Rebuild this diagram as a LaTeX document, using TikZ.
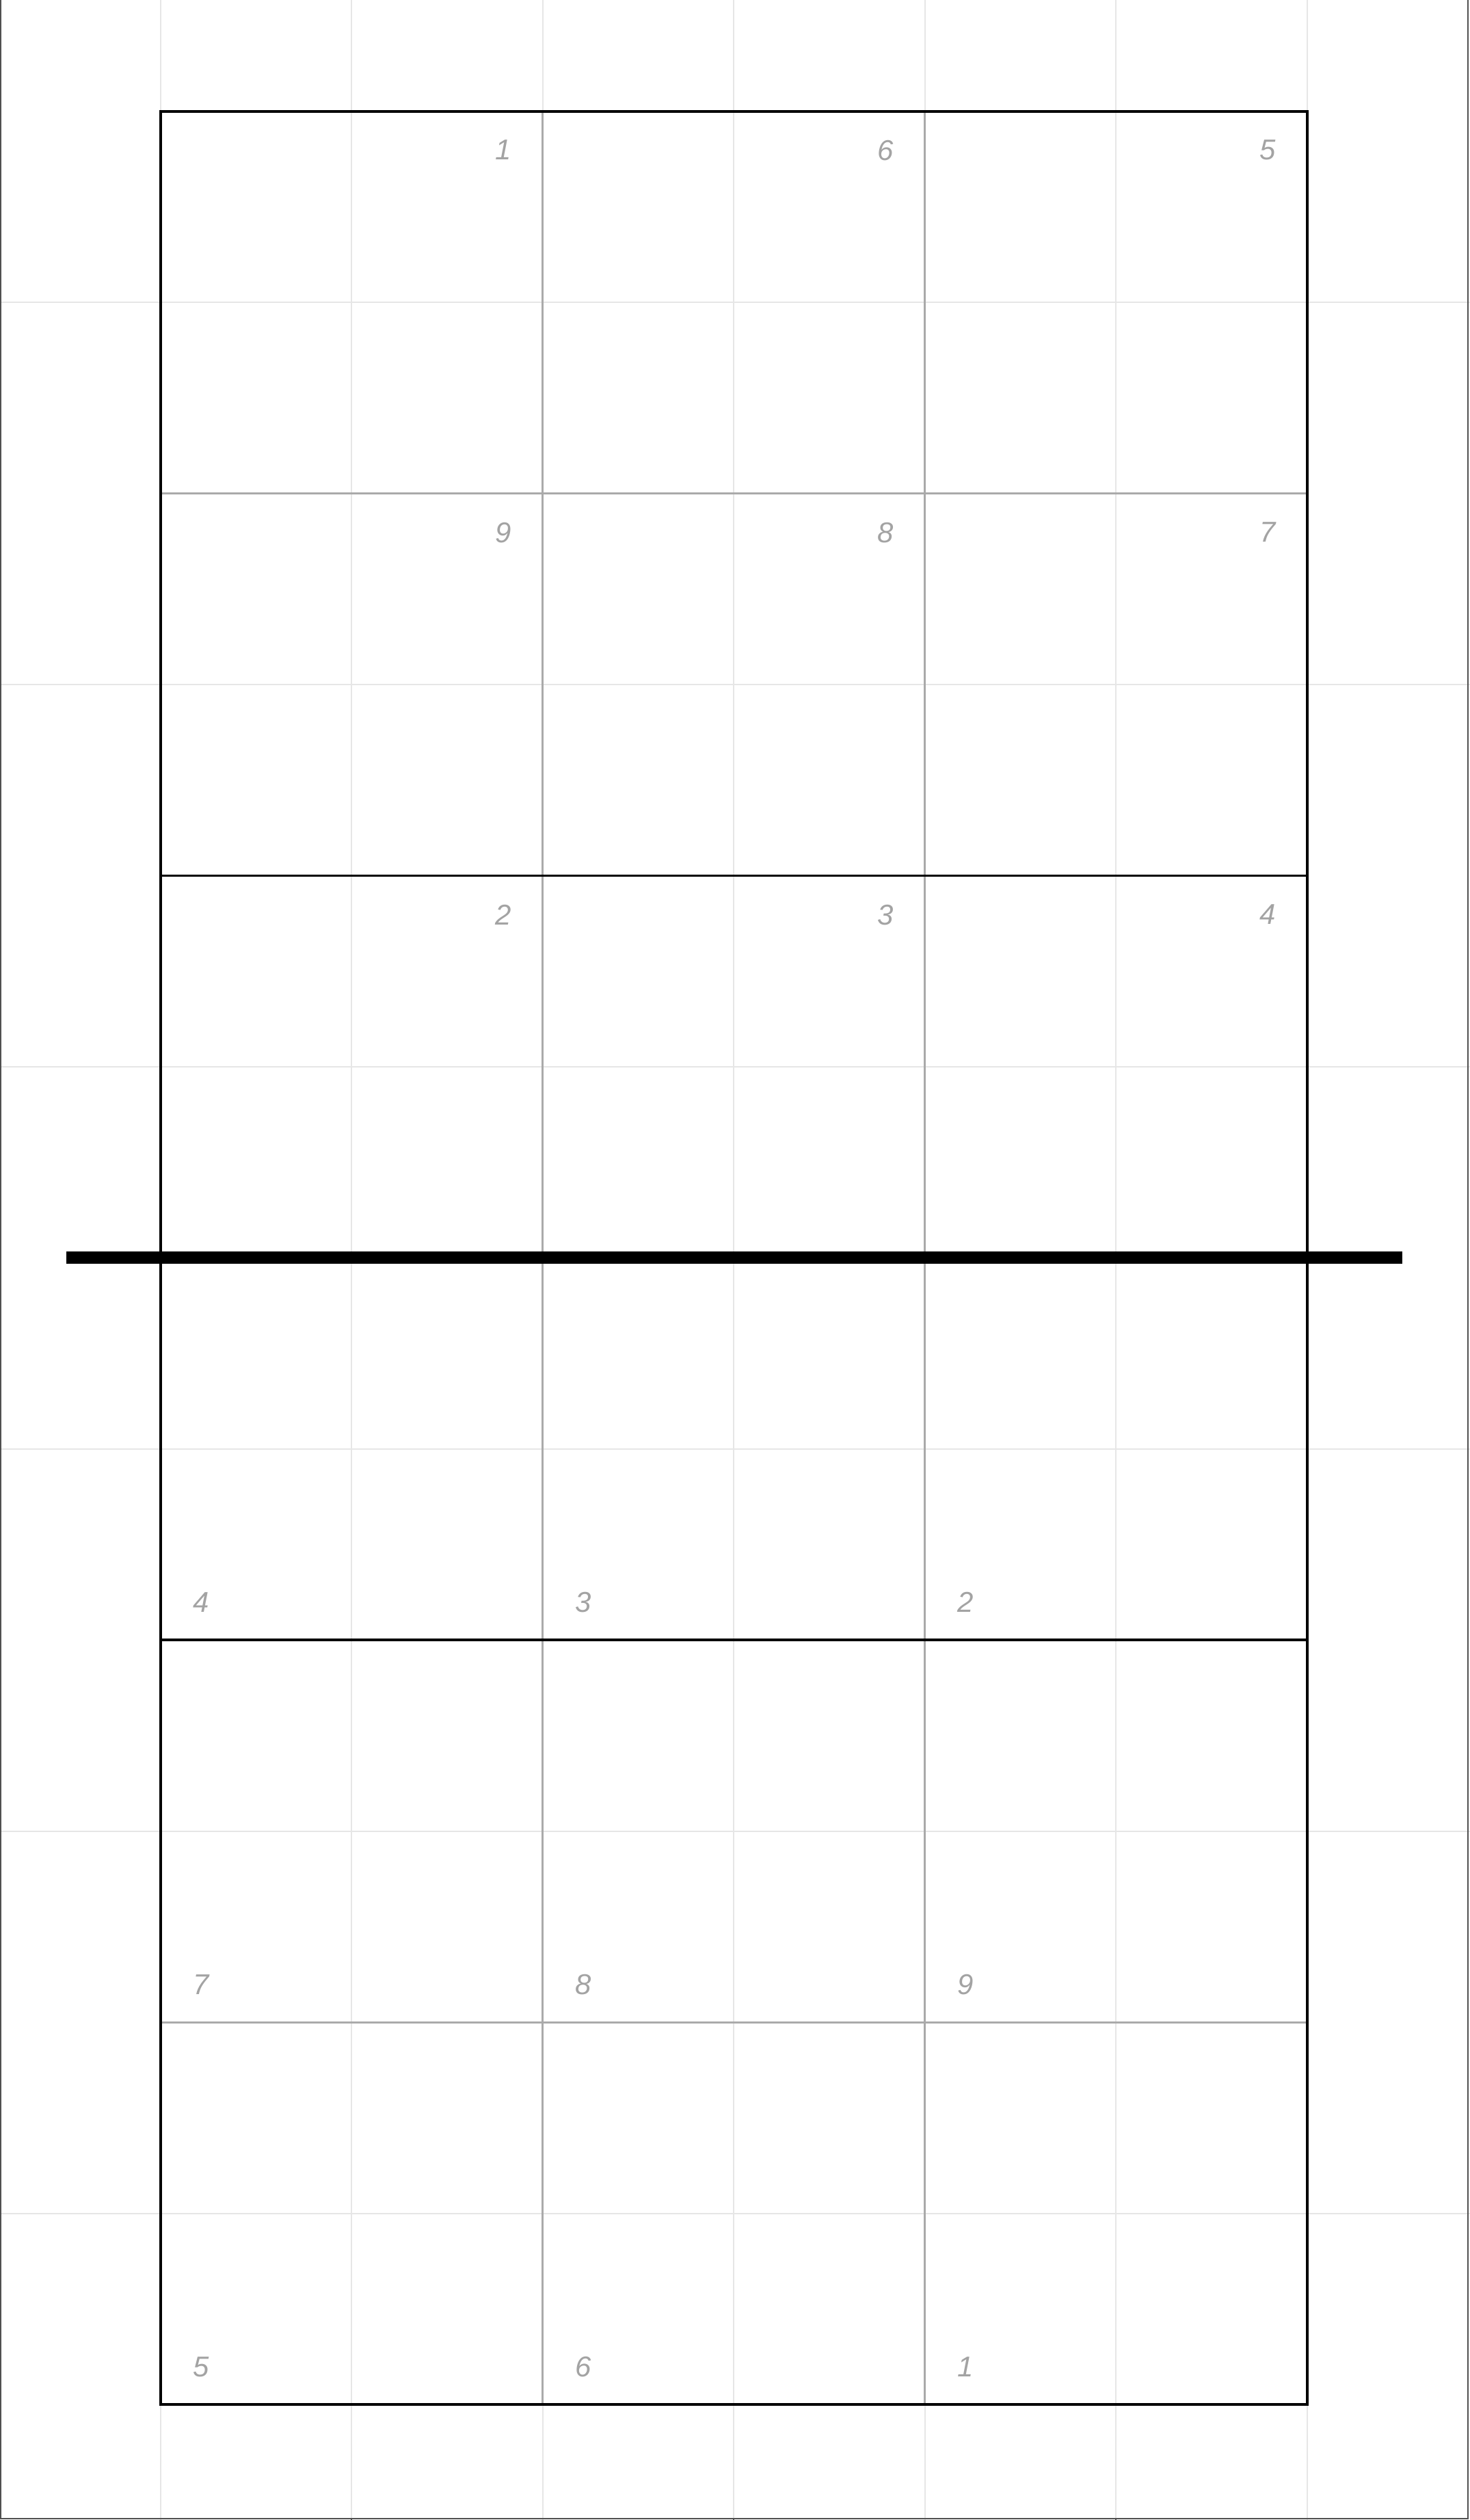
\documentclass[tikz,border=0pt]{standalone}
\usepackage{fontspec}
\newfontfamily\zonefont{Liberation Sans}

\definecolor{gridgray}{HTML}{E6E6E6}
\definecolor{zonegray}{HTML}{AAAAAA}
\definecolor{labelgray}{HTML}{A3A3A3}
\definecolor{framegray}{HTML}{505050}

\begin{document}
\begin{tikzpicture}[
    x=1cm, y=1cm,
    line cap=butt,
    every node/.style={font=\zonefont\itshape\fontsize{6.4}{7.7}\selectfont,
        text=labelgray, inner sep=0pt},
    farlabel/.style={anchor=north east},
    nearlabel/.style={anchor=south west}
]

% ============================================================
% Feld 9 m x 18 m, Netz bei y = 9
% ============================================================
\def\w{9}
\def\h{18}
\def\net{9}

\coordinate (PlotSW) at (-1.261,-0.907);
\coordinate (PlotNE) at (10.279,18.874);

\useasboundingbox[fill=white] (PlotSW) rectangle (PlotNE);

% ============================================================
% Hintergrundraster (senkrecht alle 1.5 m, waagrecht alle 3 m)
% ============================================================
\foreach \gx in {0,1.5,...,9}
    \draw[gridgray, line width=0.3pt] (\gx,-0.907) -- (\gx,18.874);
\foreach \gy in {1.5,4.5,...,16.5}
    \draw[gridgray, line width=0.3pt] (-1.261,\gy) -- (10.279,\gy);

% Rahmen des Diagramms (links, rechts, unten) mit Teilstrichen
\draw[framegray, line width=0.25pt]
    (-1.255,18.874) -- (-1.255,-0.896) -- (10.263,-0.896) -- (10.263,18.874);
\draw[framegray, line width=0.3pt] (1.5,-0.896) -- (1.5,-0.907);
\draw[framegray, line width=0.3pt] (4.5,-0.896) -- (4.5,-0.907);
\draw[framegray, line width=0.3pt] (7.5,-0.896) -- (7.5,-0.907);

% ============================================================
% Zonengrenzen (grau)
% ============================================================
\draw[zonegray, line width=0.45pt] (3,0) -- (3,\h);
\draw[zonegray, line width=0.45pt] (6,0) -- (6,\h);
\draw[zonegray, line width=0.45pt] (0,15) -- (\w,15);
\draw[zonegray, line width=0.45pt] (0,3) -- (\w,3);

% ============================================================
% Spielfeld und Angriffslinien (schwarz)
% ============================================================
\draw[black, line width=0.6pt] (0,0) rectangle (\w,\h);
\draw[black, line width=0.6pt] (0,12) -- (\w,12);
\draw[black, line width=0.6pt] (0,6) -- (\w,6);

% Netz
\coordinate (NetWest) at (-0.740,\net);
\coordinate (NetEast) at (9.748,\net);
\draw[black, line width=2.74pt] (NetWest) -- (NetEast);

% ============================================================
% Zonennummern, gegnerische Seite (oben, Ecke rechts oben)
% ============================================================
\node[farlabel] (FarA1) at (2.76,17.78) {1};
\node[farlabel] (FarA6) at (5.76,17.78) {6};
\node[farlabel] (FarA5) at (8.76,17.78) {5};

\node[farlabel] (FarB9) at (2.76,14.78) {9};
\node[farlabel] (FarB8) at (5.76,14.78) {8};
\node[farlabel] (FarB7) at (8.76,14.78) {7};

\node[farlabel] (FarC2) at (2.76,11.78) {2};
\node[farlabel] (FarC3) at (5.76,11.78) {3};
\node[farlabel] (FarC4) at (8.76,11.78) {4};

% ============================================================
% Zonennummern, eigene Seite (unten, Ecke links unten)
% ============================================================
\node[nearlabel] (NearC4) at (0.25,6.21) {4};
\node[nearlabel] (NearC3) at (3.25,6.21) {3};
\node[nearlabel] (NearC2) at (6.25,6.21) {2};

\node[nearlabel] (NearB7) at (0.25,3.21) {7};
\node[nearlabel] (NearB8) at (3.25,3.21) {8};
\node[nearlabel] (NearB9) at (6.25,3.21) {9};

\node[nearlabel] (NearA5) at (0.25,0.21) {5};
\node[nearlabel] (NearA6) at (3.25,0.21) {6};
\node[nearlabel] (NearA1) at (6.25,0.21) {1};

\end{tikzpicture}
\end{document}
